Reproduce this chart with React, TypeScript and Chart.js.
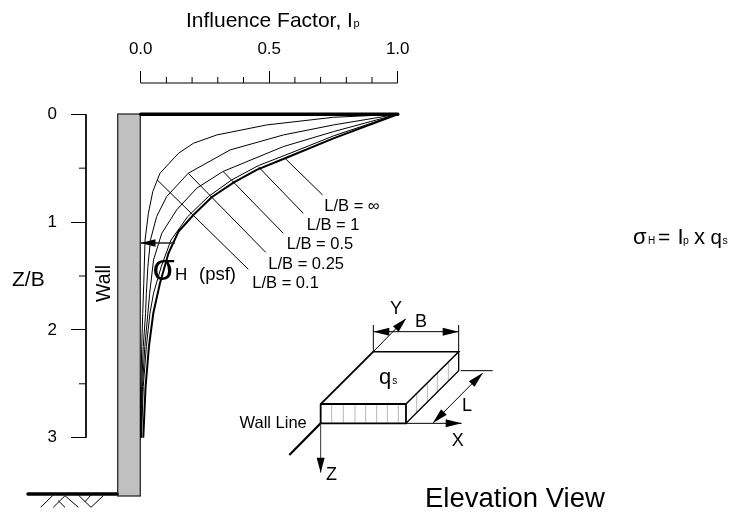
import React, { useEffect, useRef } from "react";
import { Chart, registerables } from "chart.js";

Chart.register(...registerables);

const xMajorTicks = [0, 0.5, 1];
const xMinorTicks = [0.1, 0.2, 0.3, 0.4, 0.6, 0.7, 0.8, 0.9];
const yMajorTicks = [0, 1, 2, 3];
const yMinorTicks = [0.5, 1.5, 2.5];

const seriesNames = ["L/B = 0.1", "L/B = 0.25", "L/B = 0.5", "L/B = 1", "L/B = ∞"];

const lb01x = [1, 0.75, 0.49, 0.296, 0.205, 0.147, 0.075, 0.047, 0.03, 0.017, 0.012, 0.008, 0.004, 0.001, 0];
const lb01z = [0, 0.028, 0.099, 0.192, 0.269, 0.362, 0.547, 0.717, 0.918, 1.166, 1.568, 1.846, 2.155, 2.526, 3];
const lb025x = [1, 0.75, 0.555, 0.348, 0.185, 0.101, 0.062, 0.038, 0.028, 0.022, 0.019, 0.01, 0.004, 0];
const lb025z = [0, 0.099, 0.192, 0.331, 0.547, 0.764, 0.949, 1.166, 1.413, 1.66, 1.846, 2.155, 2.526, 3];
const lb05x = [1, 0.75, 0.555, 0.319, 0.218, 0.14, 0.082, 0.05, 0.035, 0.028, 0.016, 0.007, 0.001];
const lb05z = [0, 0.161, 0.3, 0.532, 0.686, 0.887, 1.104, 1.351, 1.66, 1.846, 2.155, 2.526, 3];
const lb1x = [1, 0.75, 0.581, 0.458, 0.354, 0.263, 0.183, 0.118, 0.08, 0.05, 0.036, 0.022, 0.01, 0.003];
const lb1z = [0, 0.201, 0.362, 0.476, 0.609, 0.764, 0.949, 1.166, 1.413, 1.66, 1.846, 2.155, 2.526, 3];
const lbInfx = [1, 0.75, 0.562, 0.451, 0.361, 0.276, 0.205, 0.147, 0.108, 0.075, 0.049, 0.032, 0.019, 0.01];
const lbInfz = [0, 0.223, 0.408, 0.516, 0.634, 0.77, 0.934, 1.088, 1.289, 1.568, 1.846, 2.155, 2.526, 3];

const seriesX = [lb01x, lb025x, lb05x, lb1x, lbInfx];
const seriesZ = [lb01z, lb025z, lb05z, lb1z, lbInfz];
const seriesWidths = [1, 1, 1, 1, 2];

const xLeftEdge = -0.2128;
const zTopEdge = -0.29;
const FONT = '"Liberation Sans", Arial, sans-serif';

type Ctx = CanvasRenderingContext2D;

function seg(c: Ctx, pts: number[], width = 1, color = "#000") {
  c.strokeStyle = color;
  c.lineWidth = width;
  c.beginPath();
  c.moveTo(pts[0], pts[1]);
  for (let i = 2; i < pts.length; i += 2) c.lineTo(pts[i], pts[i + 1]);
  c.stroke();
}

function head(c: Ctx, pts: number[], len = 15, half = 4) {
  const [tx, ty, fx, fy] = pts;
  const d = Math.hypot(tx - fx, ty - fy);
  const ux = (tx - fx) / d;
  const uy = (ty - fy) / d;
  const bx = tx - ux * len;
  const by = ty - uy * len;
  c.fillStyle = "#000";
  c.beginPath();
  c.moveTo(tx, ty);
  c.lineTo(bx - uy * half, by + ux * half);
  c.lineTo(bx + uy * half, by - ux * half);
  c.closePath();
  c.fill();
}

function text(c: Ctx, s: string, x: number, y: number, size = 16.5) {
  c.fillStyle = "#000";
  c.font = `${size}px ${FONT}`;
  c.textAlign = "left";
  c.textBaseline = "alphabetic";
  c.fillText(s, x, y);
  return x + c.measureText(s).width;
}

const diagramPlugin = {
  id: "diagram",
  beforeDatasetsDraw(chart: any) {
    const c: Ctx = chart.ctx;
    c.save();
    c.fillStyle = "#c0c0c0";
    c.strokeStyle = "#2a2a2a";
    c.lineWidth = 1.3;
    c.fillRect(117.7, 114, 22.6, 382);
    c.strokeRect(117.7, 114, 22.6, 382);
    c.lineCap = "round";
    seg(c, [28, 494, 117, 494], 3.5);
    c.lineCap = "butt";
    seg(c, [40.7, 507.3, 53.3, 495], 1);
    seg(c, [53.3, 507.3, 65, 495.7, 78.3, 507.3], 1);
    seg(c, [58.3, 500.7, 65, 507.3], 1);
    seg(c, [78.3, 495, 91, 507.3, 103.3, 495.7], 1);
    seg(c, [85, 501.7, 91, 495], 1);
    c.restore();
  },
  afterDraw(chart: any) {
    const c: Ctx = chart.ctx;
    const sx = chart.scales.x;
    const sy = chart.scales.y;
    c.save();
    const axisY = sy.getPixelForValue(zTopEdge);
    const axisX = sx.getPixelForValue(xLeftEdge);
    xMinorTicks.forEach((v) => {
      const p = sx.getPixelForValue(v);
      seg(c, [p, axisY, p, axisY - 6], 1);
    });
    yMinorTicks.forEach((v) => {
      const p = sy.getPixelForValue(v);
      seg(c, [axisX, p, axisX - 7, p], 1);
    });
    seg(c, [285, 158.3, 322.7, 195], 1);
    seg(c, [258.3, 166.7, 303.3, 213.3], 1);
    seg(c, [223.3, 171.7, 283.3, 233.3], 1);
    seg(c, [188.3, 173.3, 265.7, 252.3], 1);
    seg(c, [157.3, 180, 248.3, 269.3], 1);
    seg(c, [141, 243, 175, 243], 1.3, "#222");
    head(c, [140.5, 243, 175, 243], 15, 3.8);
    let e = text(c, "Influence Factor, I", 186, 26.5, 21);
    text(c, "p", e + 0.5, 26.5, 11);
    text(c, "L/B = ∞", 324.3, 210.7);
    text(c, "L/B = 1", 306.7, 230);
    text(c, "L/B = 0.5", 286.7, 249.3);
    text(c, "L/B = 0.25", 268.3, 268.7);
    text(c, "L/B = 0.1", 252.3, 288);
    text(c, "Z/B", 12, 286, 21);
    c.save();
    c.translate(110, 302);
    c.rotate(-Math.PI / 2);
    text(c, "Wall", 0, 0, 19.5);
    c.restore();
    text(c, "σ", 152.5, 280, 36);
    text(c, "H", 175, 280, 17);
    text(c, "(psf)", 199, 280, 18.5);
    const ox = 230;
    const oy = 290;
    const P = (arr: number[]) => arr.map((v, i) => (i % 2 === 0 ? ox + v / 3 : oy + v / 3));
    [305, 340, 375, 407, 440, 472, 505].forEach((x) => seg(c, P([x, 342, x, 400]), 1, "#b8b8b8"));
    [
      [560, 310],
      [592, 278],
      [622, 248],
      [655, 215],
    ].forEach(([x, y]) => seg(c, P([x, y, x, y + 58]), 1, "#b8b8b8"));
    seg(c, P([430, 185, 686, 185, 528, 342]), 1.5);
    seg(c, P([686, 185, 686, 242, 528, 400]), 1.3);
    seg(c, P([272, 400, 272, 342, 430, 185]), 1.8);
    seg(c, P([272, 342, 528, 342, 528, 400, 272, 400]), 1.8);
    seg(c, P([272, 400, 178, 495]), 2.2);
    seg(c, P([528, 400, 695, 400]), 1);
    head(c, P([695, 400, 528, 400]), 16);
    seg(c, P([272, 400, 272, 548]), 1, "#333");
    head(c, P([272, 548, 272, 400]), 15);
    seg(c, P([430, 185, 525, 88]), 1);
    head(c, P([529, 85, 430, 185]), 15);
    seg(c, P([430, 105, 430, 185]), 1);
    seg(c, P([686, 105, 686, 185]), 1);
    seg(c, P([430, 125, 686, 125]), 1);
    head(c, P([430, 125, 686, 125]), 16);
    head(c, P([686, 125, 430, 125]), 16);
    seg(c, P([692, 242, 788, 242]), 1);
    seg(c, P([757, 250, 610, 398]), 1);
    head(c, P([759, 248, 610, 398]), 16);
    head(c, P([608, 400, 757, 250]), 16);
    text(c, "Y", 390, 314, 18);
    text(c, "B", 415, 326.7, 18);
    e = text(c, "q", 379, 383.5, 22);
    text(c, "s", e + 1, 383.5, 10);
    text(c, "L", 462, 410.7, 18);
    text(c, "X", 451.7, 445.7, 18);
    text(c, "Z", 326, 480, 18);
    text(c, "Wall Line", 239.5, 427.5, 16.5);
    text(c, "Elevation View", 425, 507, 27.5);
    text(c, "σ", 633, 244, 22);
    text(c, "H", 648, 244, 10);
    text(c, "=", 658, 244, 21);
    text(c, "I", 677.5, 244, 22);
    text(c, "p", 683, 244, 10.5);
    text(c, "x", 694, 244, 22);
    text(c, "q", 710.5, 244, 20.5);
    text(c, "s", 722.5, 244, 10.5);
    c.restore();
  },
};

export default function App() {
  const ref = useRef<HTMLCanvasElement>(null);
  useEffect(() => {
    const curves = seriesNames.map((name, k) => ({
      label: name,
      data: seriesX[k].map((x, i) => ({ x, y: seriesZ[k][i] })),
      borderColor: "#000",
      borderWidth: seriesWidths[k],
      pointRadius: 0,
      tension: 0,
      fill: false,
      clip: false as const,
    }));
    const line = (label: string, data: { x: number; y: number }[], w: number, cap: CanvasLineCap = "butt") => ({
      label,
      data,
      borderColor: "#000",
      borderWidth: w,
      borderCapStyle: cap,
      pointRadius: 0,
      fill: false,
      clip: false as const,
    });
    const chart = new Chart(ref.current!, {
      type: "scatter",
      data: {
        datasets: [
          ...curves,
          line("Surface", [{ x: 0, y: 0 }, { x: 1, y: 0 }], 3.5, "round"),
          line("Influence axis", [{ x: 0, y: zTopEdge }, { x: 1, y: zTopEdge }], 1),
          line("Depth axis", [{ x: xLeftEdge, y: 0 }, { x: xLeftEdge, y: 3 }], 1),
        ].map((d) => ({ ...d, showLine: true })),
      },
      plugins: [diagramPlugin],
      options: {
        animation: false,
        responsive: false,
        devicePixelRatio: 1,
        layout: { padding: { left: 0, top: 0, right: 331.3, bottom: 74.3 } },
        plugins: { legend: { display: false }, title: { display: false }, tooltip: { enabled: false } },
        scales: {
          x: {
            type: "linear",
            position: "top",
            min: xLeftEdge,
            max: 1,
            afterBuildTicks: (s: any) => {
              s.ticks = xMajorTicks.map((value) => ({ value }));
            },
            afterFit: (s: any) => {
              s.height = 83;
            },
            border: { display: false },
            grid: { drawOnChartArea: false, drawTicks: true, tickLength: 12, tickColor: "#000", tickWidth: 1 },
            ticks: {
              autoSkip: false,
              maxRotation: 0,
              padding: 11,
              color: "#000",
              font: { family: FONT, size: 17 },
              callback: (v: any) => Number(v).toFixed(1),
            },
          },
          y: {
            type: "linear",
            reverse: true,
            min: zTopEdge,
            max: 3,
            afterBuildTicks: (s: any) => {
              s.ticks = yMajorTicks.map((value) => ({ value }));
            },
            afterFit: (s: any) => {
              s.width = 86;
            },
            border: { display: false },
            grid: { drawOnChartArea: false, drawTicks: true, tickLength: 15, tickColor: "#000", tickWidth: 1 },
            ticks: {
              autoSkip: false,
              padding: 14,
              color: "#000",
              font: { family: FONT, size: 17 },
              callback: (v: any) => String(v),
            },
          },
        },
      },
    } as any);
    return () => chart.destroy();
  }, []);
  return (
    <div style={{ position: "fixed", left: 0, top: 0, width: 729, height: 512, background: "#fff" }}>
      <canvas ref={ref} width={729} height={512} style={{ display: "block", width: 729, height: 512 }} />
    </div>
  );
}
